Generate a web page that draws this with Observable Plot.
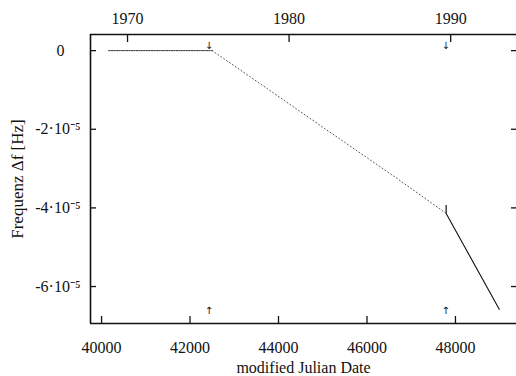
<!DOCTYPE html>
<html>
<head>
<meta charset="utf-8">
<script src="https://cdn.jsdelivr.net/npm/d3@7"></script>
<script src="https://cdn.jsdelivr.net/npm/@observablehq/plot@0.6"></script>
<style>
  html, body { margin: 0; padding: 0; background: #fff; }
</style>
</head>
<body>
<div id="chart"></div>
<script>
// Data
const flatX = [40160, 42500];
const flatY = [0, 0];
const dropX = [42500, 43750, 44900, 46640, 47790];
const dropY = [0, -0.97e-5, -1.87e-5, -3.22e-5, -4.14e-5];
const steepX = [47790, 48990];
const steepY = [-4.14e-5, -6.58e-5];

// Arrow markers (events)
const arrowX = [42430, 47780];

// Tick values / labels
const xTicks = [40000, 42000, 44000, 46000, 48000];
const yearTicksMJD = [40587, 44239, 47892];
const yearLabels = ["1970", "1980", "1990"];
const yTicks = [0, -2e-5, -4e-5, -6e-5];
const yTickLabels = ["0\u2007\u2007", "-2·10⁻⁵", "-4·10⁻⁵", "-6·10⁻⁵"];

const xDomain = [39750, 49380];
const yDomain = [-6.94e-5, 0.41e-5];

const W = 516, H = 376, mL = 90, mR = 0, mT = 34, mB = 53;
const innerW = W - mL - mR, innerH = H - mT - mB;

const flat = flatX.map((x, i) => ({x, y: flatY[i]}));
const drop = dropX.map((x, i) => ({x, y: dropY[i]}));
const steep = steepX.map((x, i) => ({x, y: steepY[i]}));

const serif = "'Liberation Serif', 'Times New Roman', serif";

const chart = Plot.plot({
  width: W, height: H,
  marginLeft: mL, marginRight: mR, marginTop: mT, marginBottom: mB,
  x: {domain: xDomain},
  y: {domain: yDomain},
  style: {fontFamily: serif, fontSize: "16px", background: "#fff", color: "#111"},
  marks: [
    // frame (left, top, bottom)
    Plot.ruleX([xDomain[0]], {stroke: "#111", strokeWidth: 1.6}),
    Plot.ruleY([yDomain[0]], {stroke: "#111", strokeWidth: 1.6}),
    Plot.ruleY([yDomain[1]], {stroke: "#111", strokeWidth: 1.6}),
    // inward ticks
    Plot.ruleX(xTicks, {insetTop: innerH - 7, stroke: "#111", strokeWidth: 1.3}),
    Plot.ruleX(yearTicksMJD, {insetBottom: innerH - 8, stroke: "#111", strokeWidth: 1.3}),
    Plot.ruleY(yTicks, {insetRight: innerW - 6, stroke: "#111", strokeWidth: 1.3}),
    Plot.ruleY(yTicks, {insetLeft: innerW - 5, stroke: "#111", strokeWidth: 1.3}),
    // axes labels
    Plot.axisX({anchor: "bottom", ticks: xTicks, tickSize: 0, tickPadding: 18, tickFormat: d => String(d),
      fontSize: 16, label: null}),
    Plot.axisX({anchor: "bottom", ticks: [], tickSize: 0, fontSize: 16,
      label: "modified Julian Date", labelAnchor: "center", labelOffset: 49, labelArrow: "none"}),
    Plot.axisX({anchor: "top", ticks: yearTicksMJD, tickSize: 0, tickPadding: 11,
      tickFormat: (d) => yearLabels[yearTicksMJD.indexOf(d)], fontSize: 16, label: null}),
    Plot.axisY({anchor: "left", ticks: yTicks, tickSize: 0, tickPadding: 10,
      tickFormat: (d) => yTickLabels[yTicks.indexOf(d)], fontSize: 16, label: null}),
    Plot.axisY({anchor: "left", ticks: [], tickSize: 0, fontSize: 17,
      label: "Frequenz Δf [Hz]", labelAnchor: "center", labelOffset: 80, labelArrow: "none"}),
    // data
    Plot.line(flat, {x: "x", y: "y", stroke: "#333", strokeWidth: 1, strokeDasharray: "1.5,1"}),
    Plot.line(drop, {x: "x", y: "y", stroke: "#555", strokeWidth: 1, strokeDasharray: "1,2.5"}),
    Plot.line(steep, {x: "x", y: "y", stroke: "#111", strokeWidth: 1.1}),
    Plot.ruleX([steepX[0]], {y1: steepY[0], y2: steepY[0] + 0.2e-5, stroke: "#111", strokeWidth: 1.2}),
    // event arrows
    Plot.text(arrowX, {x: d => d, frameAnchor: "top", dy: 7, text: () => "↓", fontSize: 10, fontFamily: "DejaVu Sans", fill: "#111"}),
    Plot.text(arrowX, {x: d => d, frameAnchor: "bottom", dy: -10, text: () => "↑", fontSize: 10, fontFamily: "DejaVu Sans", fill: "#111"})
  ]
});
document.getElementById("chart").appendChild(chart);
</script>
</body>
</html>
